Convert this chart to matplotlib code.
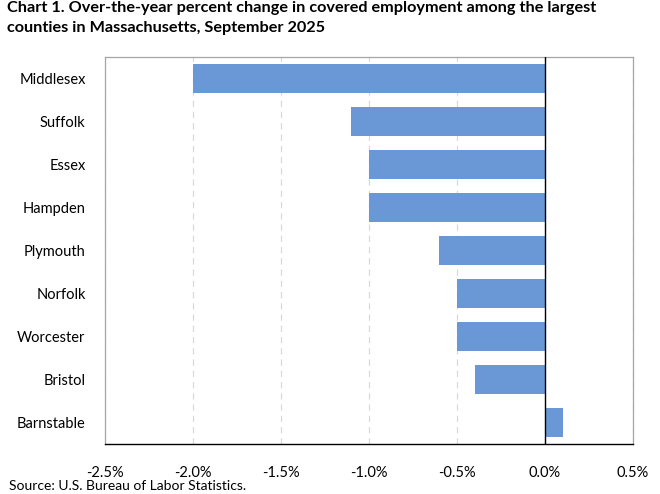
import matplotlib
matplotlib.use("Agg")
import matplotlib.pyplot as plt
from matplotlib.ticker import FuncFormatter

counties = ["Middlesex", "Suffolk", "Essex", "Hampden", "Plymouth",
            "Norfolk", "Worcester", "Bristol", "Barnstable"]
pct_change = [-2.0, -1.1, -1.0, -1.0, -0.6, -0.5, -0.5, -0.4, 0.1]
xticks = [-2.5, -2.0, -1.5, -1.0, -0.5, 0.0, 0.5]

plt.rcParams['font.family'] = ['Lato', 'DejaVu Sans']

fig = plt.figure(figsize=(6.6, 4.94), dpi=100)
ax = fig.add_axes([105/660, 1-444/494, (633-105)/660, (444-57)/494])

y = list(range(len(counties)))
ax.barh(y, pct_change, height=0.67, color="#6A98D6", zorder=3)
ax.set_ylim(len(counties)-0.5, -0.5)
ax.set_yticks(y)
ax.set_yticklabels(counties, fontsize=10.5)
ax.set_xlim(-2.5, 0.5)
ax.set_xticks(xticks)
ax.xaxis.set_major_formatter(FuncFormatter(lambda v, p: f"{v:.1f}%"))
ax.tick_params(axis='x', labelsize=10.5, length=0, pad=16)
ax.tick_params(axis='y', length=0, pad=14)
ax.grid(axis='x', color="#D9D9D9", linestyle=(0, (5, 4)), linewidth=0.9, zorder=0)
ax.axvline(0, color="black", linewidth=1.0, zorder=4)
for s in ['top', 'right', 'left']:
    ax.spines[s].set_color("#A6A6A6")
    ax.spines[s].set_linewidth(0.9)
ax.spines['bottom'].set_color("black")
ax.spines['bottom'].set_linewidth(1.0)

fig.text(7/660, 1-18/494, "Chart 1. Over-the-year percent change in covered employment among the largest\ncounties in Massachusetts, September 2025",
         fontsize=11.7, fontweight='bold', va='center', ha='left', linespacing=1.5)
fig.text(9/660, 1-486/494, "Source: U.S. Bureau of Labor Statistics.", fontsize=10, va='center', ha='left')

fig.savefig("out.png", dpi=100)
